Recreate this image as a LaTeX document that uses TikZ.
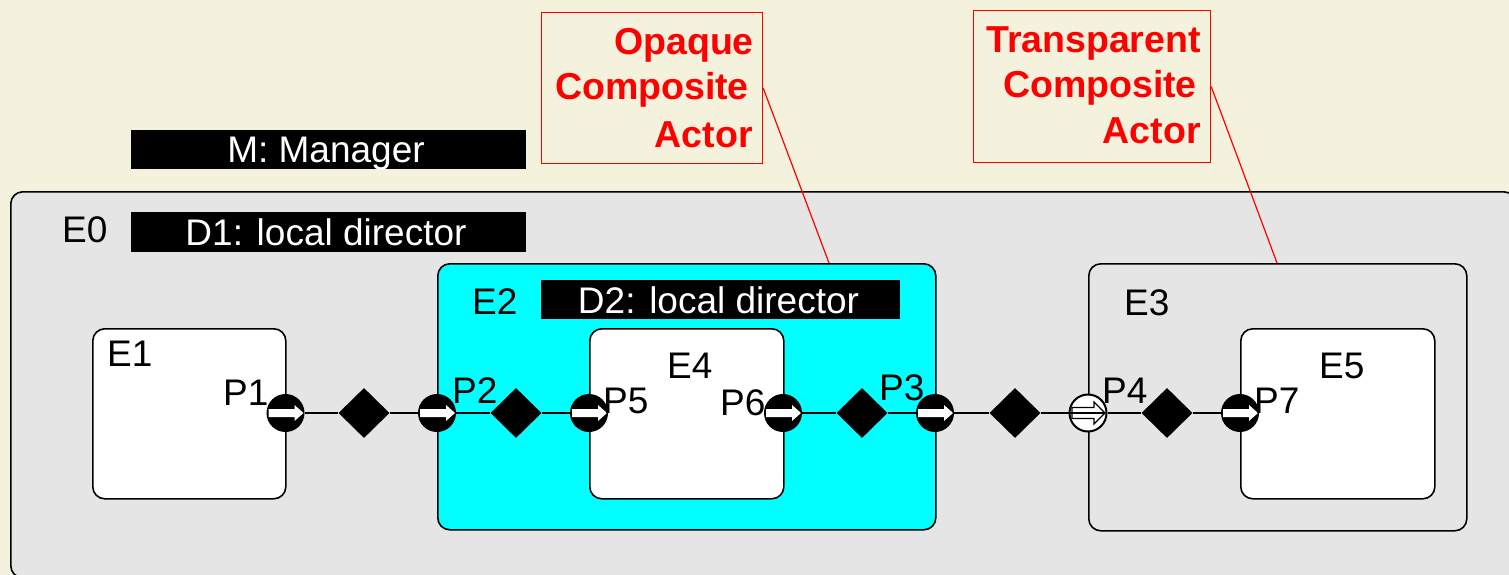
\documentclass[tikz,border=0pt]{standalone}
\usepackage{fontspec}
\setmainfont{Liberation Sans}
\usetikzlibrary{shapes.geometric}

\definecolor{cream}{RGB}{244,242,220}
\definecolor{panel}{RGB}{229,229,229}
\definecolor{aqua}{RGB}{0,255,255}
\definecolor{callred}{RGB}{255,0,0}

\begin{document}
\begin{tikzpicture}[x=1pt,y=-1pt,
  actorbox/.style={draw=black, line width=1.6pt, rounded corners=12pt,
    anchor=north west, inner sep=0pt},
  bar/.style={fill=black, anchor=north west, inner sep=0pt},
  lbl/.style={inner sep=0pt, font=\fontsize{37}{44}\selectfont},
  barlbl/.style={lbl, text=white, anchor=base},
  note/.style={draw=callred, line width=1.2pt, anchor=north west, inner sep=0pt},
  notetxt/.style={inner sep=0pt, anchor=base east, text=callred,
    font=\fontsize{37.5}{45}\selectfont\bfseries},
  leader/.style={draw=callred, line width=1.2pt},
  wire/.style={draw=black, line width=1.4pt},
  relation/.style={diamond, fill=black, minimum width=51pt, minimum height=50pt,
    inner sep=0pt},
  port/.style={circle, fill=black, minimum size=38pt, inner sep=0pt,
    path picture={
      \fill[white, shift={(path picture bounding box.center)}]
        (-17,-4) -- (9,-4) -- (9,-8) -- (18,0) -- (9,8) -- (9,4) -- (-17,4) -- cycle;
    }},
  openport/.style={circle, draw=black, line width=2pt, fill=white,
    minimum size=37pt, inner sep=0pt,
    path picture={
      \begin{scope}[shift={(path picture bounding box.center)}]
        \filldraw[fill=white, draw=black, line width=1.1pt]
          (-16,-5.5) -- (6,-5.5) -- (6,-11) -- (17,0) -- (6,11) -- (6,5.5) -- (-16,5.5) -- cycle;
        \draw[black, line width=1.1pt] (-19,0) -- (16,0);
      \end{scope}
    }}
]
\useasboundingbox (0,0) rectangle (1509,575);
\clip (0,0) rectangle (1509,575);
\fill[cream] (0,0) rectangle (1509,575);

% top-level container and its director
\node[actorbox, fill=panel, minimum width=1505pt, minimum height=386pt] (E0) at (10,191) {};
\node[bar, minimum width=395pt, minimum height=39pt] (M)  at (131,130) {};
\node[bar, minimum width=395pt, minimum height=40pt] (D1) at (131,212) {};
\node[barlbl] (Mtxt)  at (326,162.5) {M: Manager};
\node[barlbl] (D1txt) at (326,245.5) {D1: local director};
\node[lbl, anchor=base west] (E0txt) at (62,242) {E0};

% contained actors
\node[actorbox, fill=white, minimum width=193pt, minimum height=170pt] (E1) at (92,328) {};
\node[actorbox, fill=aqua,  minimum width=498pt, minimum height=266pt] (E2) at (437,263) {};
\node[actorbox, fill=panel, minimum width=378pt, minimum height=267pt] (E3) at (1088,263) {};
\node[actorbox, fill=white, minimum width=194pt, minimum height=170pt] (E4) at (589,328) {};
\node[actorbox, fill=white, minimum width=194pt, minimum height=170pt] (E5) at (1240,328) {};
\node[bar, minimum width=359pt, minimum height=39pt] (D2) at (541,280) {};
\node[barlbl] (D2txt) at (718.5,313) {D2: local director};

\node[lbl, anchor=base west] (E1txt) at (107,366) {E1};
\node[lbl, anchor=base west] (E2txt) at (472,314) {E2};
\node[lbl, anchor=base west] (E3txt) at (1124,315) {E3};
\node[lbl, anchor=base west] (E4txt) at (667,378) {E4};
\node[lbl, anchor=base west] (E5txt) at (1319,378) {E5};

% ports
\node[port] (P1) at (285.5,413) {};
\node[port] (P2) at (437,413) {};
\node[port] (P5) at (589,413) {};
\node[port] (P6) at (783,413) {};
\node[port] (P3) at (935,413) {};
\node[openport] (P4) at (1088,413) {};
\node[port] (P7) at (1240,413) {};

% relations
\node[relation] (R1) at (364,413) {};
\node[relation] (R2) at (516,413) {};
\node[relation] (R3) at (862,413) {};
\node[relation] (R4) at (1015,413) {};
\node[relation] (R5) at (1167,413) {};

% links
\draw[wire] (P1) -- (R1);  \draw[wire] (R1) -- (P2);
\draw[wire] (P2) -- (R2);  \draw[wire] (R2) -- (P5);
\draw[wire] (P6) -- (R3);  \draw[wire] (R3) -- (P3);
\draw[wire] (P3) -- (R4);  \draw[wire] (R4) -- (P4);
\draw[wire] (P4) -- (R5);  \draw[wire] (R5) -- (P7);

% port names
\node[lbl, anchor=base west] (P1txt) at (223,405) {P1};
\node[lbl, anchor=base west] (P2txt) at (452,403) {P2};
\node[lbl, anchor=base west] (P5txt) at (603,413) {P5};
\node[lbl, anchor=base west] (P6txt) at (720,415) {P6};
\node[lbl, anchor=base west] (P3txt) at (879,400) {P3};
\node[lbl, anchor=base west] (P4txt) at (1102,403) {P4};
\node[lbl, anchor=base west] (P7txt) at (1254,413) {P7};

% callouts
\node[note, minimum width=221pt, minimum height=151pt] (C1) at (541,12) {};
\node[notetxt] (C1a) at (754,55)  {Opaque};
\node[notetxt] (C1b) at (749,100) {Composite};
\node[notetxt] (C1c) at (753,147) {Actor};
\coordinate (T1) at (829,263);
\draw[leader] (C1.east) -- (T1);

\node[note, minimum width=237pt, minimum height=152pt] (C2) at (973,10) {};
\node[notetxt] (C2a) at (1201,53)  {Transparent};
\node[notetxt] (C2b) at (1197,98)  {Composite};
\node[notetxt] (C2c) at (1201,143) {Actor};
\coordinate (T2) at (1277,263);
\draw[leader] (C2.east) -- (T2);
\end{tikzpicture}
\end{document}
